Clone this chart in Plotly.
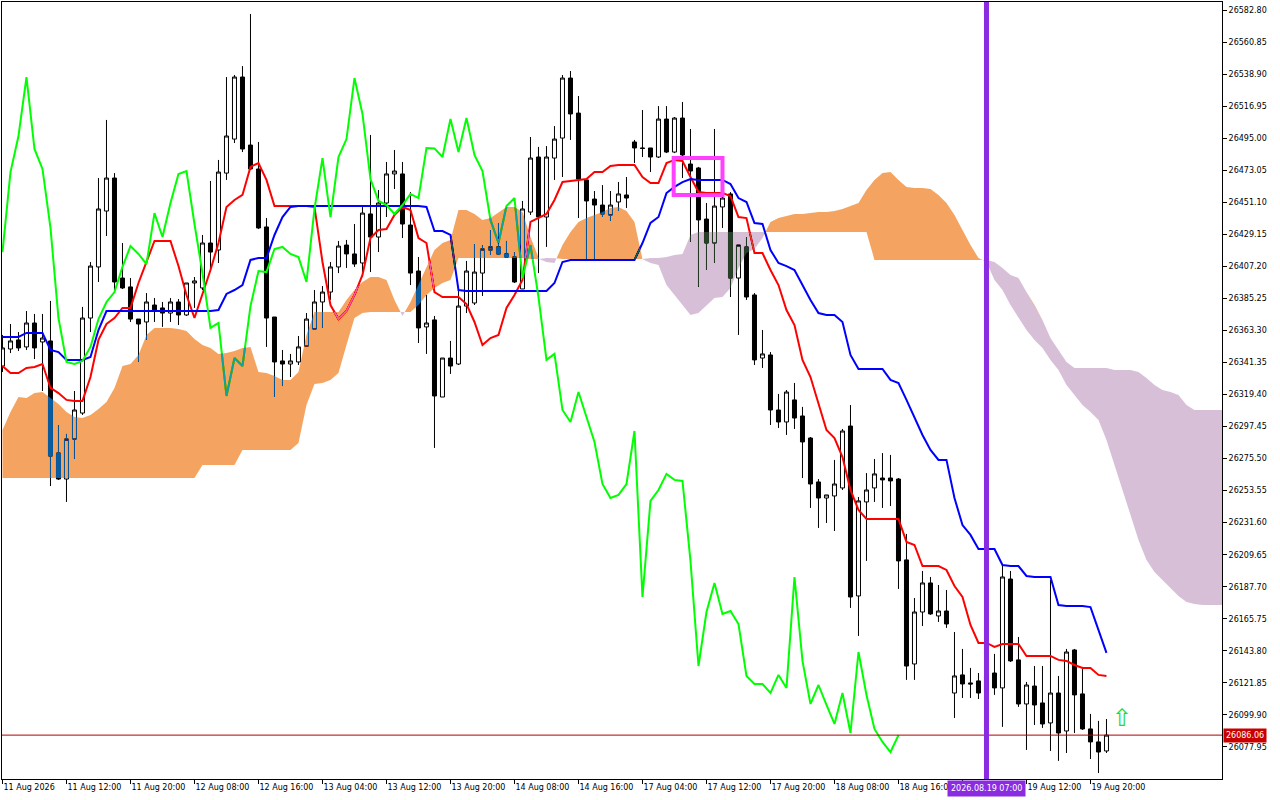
import plotly.graph_objects as go

# ---------------- data ----------------
bar_index = list(range(139))

open_ = [26338.9, 26350.6, 26356.8, 26352.0, 26368.4, 26355.4, 26356.1, 26279.3, 26261.5, 26288.9,
         26306.7, 26371.8, 26406.8, 26445.1, 26467.7, 26399.2, 26393.1, 26371.1, 26369.1, 26380.7,
         26378.7, 26375.2, 26382.8, 26373.9, 26395.8, 26392.4, 26423.2, 26418.4, 26471.1, 26494.4,
         26536.9, 26490.3, 26473.9, 26434.2, 26372.5, 26342.4, 26340.3, 26341.7, 26352.6, 26364.3,
         26382.8, 26389.6, 26406.8, 26421.8, 26415.7, 26409.5, 26443.1, 26427.3, 26450.6, 26470.5,
         26470.5, 26435.5, 26404.0, 26365.7, 26370.5, 26317.7, 26344.4, 26340.3, 26380.0, 26382.1,
         26402.6, 26418.4, 26420.5, 26415.7, 26413.6, 26391.7, 26444.4, 26482.1, 26441.0, 26481.4,
         26495.1, 26536.2, 26512.2, 26466.4, 26453.3, 26449.2, 26442.4, 26451.3, 26456.1, 26492.4,
         26488.3, 26488.3, 26482.1, 26508.1, 26485.5, 26508.8, 26477.3, 26474.6, 26439.6, 26423.2,
         26447.9, 26456.8, 26399.2, 26420.5, 26387.6, 26344.4, 26346.5, 26308.8, 26300.6, 26315.7,
         26304.7, 26289.6, 26259.5, 26248.5, 26249.9, 26255.4, 26297.8, 26181.4, 26245.8, 26255.4,
         26262.2, 26262.2, 26261.5, 26206.1, 26134.8, 26170.4, 26190.3, 26167.7, 26171.1, 26114.9,
         26127.3, 26121.8, 26123.2, 26114.9, 26128.6, 26118.4, 26193.0, 26137.6, 26107.4, 26119.7,
         26108.1, 26094.4, 26114.9, 26088.9, 26144.4, 26114.3, 26090.3, 26081.4, 26075.2]
high = [26360.2, 26367.7, 26362.2, 26376.6, 26374.6, 26374.6, 26383.5, 26298.5, 26292.4, 26321.8,
        26379.4, 26410.2, 26467.7, 26507.5, 26471.1, 26423.2, 26399.2, 26371.1, 26388.9, 26385.5,
        26382.8, 26385.5, 26384.8, 26395.8, 26399.9, 26428.7, 26465.7, 26480.1, 26536.9, 26538.3,
        26544.4, 26580.1, 26492.4, 26440.3, 26372.5, 26349.9, 26347.2, 26359.5, 26375.2, 26391.0,
        26393.7, 26410.2, 26424.6, 26425.3, 26436.2, 26447.9, 26497.2, 26459.5, 26478.7, 26486.9,
        26478.7, 26458.1, 26413.6, 26387.6, 26373.2, 26344.4, 26356.1, 26391.0, 26410.9, 26422.5,
        26421.8, 26432.1, 26436.9, 26424.6, 26417.0, 26452.0, 26495.8, 26489.0, 26489.6, 26503.3,
        26538.3, 26541.0, 26523.9, 26467.7, 26458.8, 26462.9, 26458.8, 26465.0, 26468.4, 26493.8,
        26514.3, 26488.3, 26517.0, 26517.0, 26509.5, 26519.8, 26501.3, 26475.3, 26450.6, 26501.3,
        26461.6, 26458.1, 26421.8, 26427.3, 26388.9, 26363.6, 26348.5, 26319.8, 26322.5, 26327.3,
        26310.9, 26290.3, 26261.5, 26250.6, 26274.6, 26295.8, 26312.2, 26249.2, 26265.6, 26275.2,
        26279.3, 26278.0, 26262.2, 26223.9, 26180.0, 26198.5, 26194.4, 26188.9, 26185.5, 26156.7,
        26145.1, 26132.1, 26128.6, 26130.7, 26141.7, 26203.3, 26198.5, 26153.3, 26122.5, 26133.4,
        26133.4, 26192.4, 26126.6, 26145.1, 26145.1, 26132.8, 26100.6, 26095.8, 26097.1]
low = [26334.8, 26347.8, 26349.2, 26349.9, 26343.7, 26321.8, 26256.7, 26260.9, 26245.8, 26275.2,
       26305.4, 26362.2, 26396.5, 26428.0, 26391.0, 26391.7, 26369.1, 26341.7, 26356.8, 26369.1,
       26365.7, 26369.1, 26367.0, 26373.2, 26378.7, 26391.0, 26403.3, 26409.5, 26466.4, 26491.7,
       26485.5, 26473.2, 26432.8, 26352.0, 26317.7, 26325.2, 26331.4, 26339.6, 26352.6, 26364.3,
       26365.0, 26384.2, 26402.6, 26406.1, 26406.8, 26399.9, 26403.3, 26417.0, 26441.0, 26460.2,
       26426.6, 26394.4, 26354.7, 26347.2, 26282.8, 26317.7, 26333.5, 26339.6, 26375.2, 26380.7,
       26386.9, 26415.0, 26415.0, 26412.9, 26395.8, 26391.7, 26442.4, 26402.6, 26420.5, 26466.4,
       26468.4, 26493.8, 26440.3, 26412.2, 26412.2, 26441.0, 26438.3, 26445.1, 26447.2, 26478.0,
       26482.1, 26471.8, 26481.4, 26484.8, 26484.8, 26467.7, 26423.9, 26393.1, 26404.7, 26409.5,
       26433.5, 26386.2, 26360.2, 26384.2, 26339.6, 26337.6, 26298.5, 26296.5, 26291.7, 26295.8,
       26262.2, 26241.7, 26228.0, 26231.4, 26225.9, 26254.0, 26173.2, 26154.0, 26205.4, 26245.8,
       26241.7, 26243.0, 26186.2, 26123.9, 26123.9, 26160.8, 26168.4, 26163.6, 26159.5, 26097.8,
       26111.5, 26111.5, 26110.8, 26110.2, 26113.6, 26091.7, 26136.2, 26105.4, 26075.9, 26093.0,
       26091.0, 26075.2, 26068.4, 26073.8, 26087.5, 26089.6, 26069.7, 26060.1, 26073.8]
close = [26351.3, 26356.1, 26351.3, 26368.4, 26351.3, 26358.1, 26277.3, 26261.5, 26288.9, 26308.8,
         26371.8, 26407.4, 26446.5, 26467.7, 26396.5, 26392.4, 26371.1, 26367.7, 26382.8, 26377.3,
         26375.2, 26382.8, 26373.9, 26395.8, 26397.2, 26423.2, 26417.0, 26471.8, 26496.5, 26536.9,
         26487.6, 26473.9, 26433.5, 26371.8, 26341.7, 26340.3, 26342.4, 26352.0, 26371.1, 26382.8,
         26389.6, 26406.8, 26421.1, 26415.7, 26408.8, 26443.7, 26427.3, 26450.6, 26470.5, 26472.5,
         26436.2, 26402.6, 26365.0, 26368.4, 26318.4, 26344.4, 26338.9, 26380.0, 26404.0, 26403.3,
         26419.1, 26420.5, 26415.7, 26413.6, 26396.5, 26446.5, 26481.4, 26441.0, 26482.1, 26494.4,
         26536.2, 26511.6, 26467.0, 26452.0, 26449.2, 26443.1, 26449.2, 26456.8, 26454.0, 26488.3,
         26488.0, 26482.1, 26508.1, 26485.5, 26508.8, 26483.5, 26472.5, 26439.0, 26423.2, 26448.5,
         26454.0, 26399.2, 26421.8, 26386.2, 26343.1, 26347.2, 26308.8, 26300.6, 26321.1, 26303.3,
         26286.9, 26258.1, 26248.5, 26250.6, 26258.1, 26294.4, 26180.7, 26246.5, 26254.0, 26265.0,
         26260.9, 26260.2, 26205.4, 26133.4, 26170.4, 26190.3, 26169.1, 26171.1, 26162.2, 26126.6,
         26121.1, 26121.1, 26114.9, 26127.3, 26118.4, 26194.4, 26136.9, 26107.4, 26120.4, 26106.7,
         26093.7, 26114.9, 26087.5, 26143.0, 26113.6, 26090.3, 26081.4, 26074.5, 26086.06]

# Tenkan-sen (red) and Kijun-sen (blue), one value per bar
tenkan = [26338.9, 26334.1, 26334.1, 26337.6, 26338.3, 26340.3, 26323.9, 26320.4, 26315.7, 26315.0,
          26315.0, 26331.4, 26356.8, 26367.7, 26371.8, 26378.7, 26378.7, 26395.8, 26410.2, 26424.6,
          26424.6, 26424.6, 26407.4, 26387.6, 26371.8, 26387.6, 26404.7, 26423.2, 26447.9, 26452.7,
          26456.1, 26475.3, 26478.0, 26466.4, 26448.5, 26448.5, 26448.5, 26448.5, 26448.5, 26447.9,
          26410.2, 26380.7, 26371.1, 26376.6, 26387.6, 26401.3, 26426.6, 26432.1, 26432.8, 26442.4,
          26447.9, 26445.8, 26426.6, 26423.2, 26389.6, 26386.2, 26386.2, 26386.2, 26381.4, 26369.1,
          26353.3, 26358.1, 26360.2, 26378.7, 26387.6, 26397.9, 26437.6, 26440.3, 26443.1, 26452.7,
          26465.0, 26465.7, 26466.4, 26467.0, 26471.8, 26471.8, 26475.9, 26476.6, 26476.6, 26476.6,
          26468.4, 26464.3, 26464.3, 26478.0, 26480.1, 26479.4, 26468.4, 26458.1, 26457.4, 26457.4,
          26457.4, 26455.4, 26441.0, 26440.3, 26416.3, 26416.3, 26404.7, 26394.4, 26377.3, 26367.0,
          26343.1, 26331.4, 26313.6, 26295.1, 26289.6, 26276.6, 26254.0, 26240.3, 26234.1, 26234.1,
          26234.1, 26234.1, 26234.1, 26218.4, 26216.3, 26201.9, 26201.9, 26201.9, 26199.2, 26188.2,
          26180.7, 26161.5, 26149.2, 26149.2, 26146.5, 26148.5, 26148.5, 26148.5, 26140.3, 26140.3,
          26140.3, 26140.3, 26137.6, 26136.9, 26134.1, 26132.1, 26132.1, 26127.3, 26126.6]
kijun = [26358.8, 26358.8, 26358.8, 26361.6, 26361.6, 26361.6, 26349.9, 26348.5, 26343.1, 26343.1,
         26343.1, 26345.1, 26363.6, 26376.6, 26376.6, 26376.6, 26376.6, 26376.6, 26376.6, 26376.6,
         26376.6, 26376.6, 26376.6, 26376.6, 26376.6, 26376.6, 26376.6, 26377.3, 26388.3, 26391.0,
         26394.4, 26411.6, 26412.9, 26412.9, 26428.7, 26441.0, 26447.9, 26448.5, 26448.5, 26448.5,
         26448.5, 26448.5, 26448.5, 26448.5, 26448.5, 26448.5, 26448.5, 26448.5, 26448.5, 26448.5,
         26448.5, 26448.5, 26448.5, 26447.9, 26431.4, 26431.4, 26428.7, 26391.0, 26390.3, 26390.3,
         26390.3, 26390.3, 26390.3, 26390.3, 26390.3, 26390.3, 26390.3, 26390.3, 26390.3, 26395.8,
         26410.2, 26411.6, 26411.6, 26411.6, 26411.6, 26411.6, 26411.6, 26411.6, 26411.6, 26411.6,
         26423.2, 26436.9, 26441.0, 26457.4, 26461.6, 26464.9, 26467.0, 26466.4, 26466.4, 26466.4,
         26466.4, 26463.6, 26454.0, 26451.3, 26436.9, 26436.2, 26418.4, 26409.5, 26407.4, 26404.7,
         26394.4, 26384.2, 26375.2, 26373.9, 26373.9, 26369.1, 26346.5, 26336.9, 26336.9, 26336.9,
         26336.9, 26329.4, 26327.3, 26315.7, 26303.3, 26291.7, 26281.4, 26274.6, 26274.6, 26248.5,
         26230.0, 26223.2, 26213.6, 26213.6, 26213.6, 26202.6, 26201.9, 26201.9, 26195.1, 26194.4,
         26194.4, 26194.4, 26175.2, 26174.5, 26174.5, 26174.5, 26173.8, 26158.1, 26142.4]

# Senkou spans A and B (already shifted 26 bars forward), one value per bar slot 0..153
span_a = [26295.1, 26307.4, 26317.7, 26317.0, 26320.4, 26321.1, 26317.0, 26312.9, 26307.4, 26304.0,
          26303.3, 26305.4, 26309.5, 26314.3, 26323.9, 26338.9, 26340.3, 26346.5, 26360.2, 26365.0,
          26365.0, 26365.0, 26364.3, 26362.9, 26357.4, 26353.3, 26351.3, 26347.2, 26347.8, 26349.2,
          26351.3, 26352.0, 26334.8, 26334.1, 26332.1, 26329.4, 26329.4, 26334.8, 26360.2, 26375.9,
          26375.9, 26375.9, 26375.9, 26384.2, 26391.0, 26396.5, 26399.9, 26399.9, 26397.9, 26384.2,
          26373.2, 26382.8, 26394.4, 26406.1, 26418.4, 26423.2, 26425.3, 26445.8, 26445.8, 26443.1,
          26439.0, 26440.3, 26444.4, 26447.9, 26447.9, 26444.4, 26427.3, 26412.4, 26410.2, 26409.5,
          26421.8, 26430.7, 26437.6, 26440.3, 26442.4, 26444.4, 26447.2, 26447.9, 26445.1, 26437.6,
          26412.0, 26409.5, 26408.1, 26394.4, 26387.6, 26380.7, 26373.9, 26375.2, 26380.7, 26385.5,
          26386.2, 26392.4, 26406.1, 26416.3, 26419.1, 26426.6, 26437.6, 26440.3, 26441.7, 26443.1,
          26443.1, 26443.7, 26444.4, 26444.4, 26445.1, 26446.5, 26448.5, 26450.6, 26459.5, 26466.4,
          26471.1, 26471.8, 26466.4, 26461.6, 26460.9, 26460.9, 26460.2, 26456.1, 26450.6, 26442.4,
          26432.1, 26421.8, 26412.9, 26410.2, 26397.9, 26391.0, 26380.7, 26371.8, 26363.6, 26356.8,
          26351.3, 26343.1, 26336.2, 26325.9, 26319.1, 26312.2, 26307.4, 26302.0, 26288.3, 26271.1,
          26254.0, 26236.9, 26219.8, 26206.1, 26197.8, 26192.4, 26186.9, 26181.4, 26177.3, 26175.9,
          26175.2, 26175.2, 26175.2, 26175.2]
span_b = ([26262.2] * 25 + [26271.1] * 5 + [26281.4] * 7 +
          [26286.2, 26312.2, 26326.6, 26327.3, 26329.4, 26334.1, 26353.3, 26371.8, 26375.2] +
          [26375.9] * 6 + [26380.7, 26387.6, 26392.4, 26395.8, 26397.9] +
          [26412.9] * 9 + [26412.2] * 2 + [26412.9] * 2 + [26412.2] * 11 + [26412.9] * 2 +
          [26413.6, 26415.0, 26415.7, 26428.7] + [26430.7] * 22 + [26411.6] * 15 +
          [26410.2, 26406.1, 26401.3, 26399.2, 26389.6, 26380.7, 26370.5, 26358.1, 26349.9, 26341.7] +
          [26337.6] * 5 + [26336.2] * 3 +
          [26334.8, 26330.7, 26325.9, 26322.5, 26321.1, 26319.1, 26312.2] + [26308.8] * 5)

time_tick_index = [0, 8, 16, 24, 32, 40, 48, 56, 64, 72, 80, 88, 96, 104, 112, 120, 128, 136]
time_tick_text = ["11 Aug 2026", "11 Aug 12:00", "11 Aug 20:00", "12 Aug 08:00", "12 Aug 16:00",
                  "13 Aug 04:00", "13 Aug 12:00", "13 Aug 20:00", "14 Aug 08:00", "14 Aug 16:00",
                  "17 Aug 04:00", "17 Aug 12:00", "17 Aug 20:00", "18 Aug 08:00", "18 Aug 16:00",
                  "", "19 Aug 12:00", "19 Aug 20:00"]
price_ticks = [26077.95, 26099.90, 26121.85, 26143.80, 26165.75, 26187.70, 26209.65, 26231.60,
               26253.55, 26275.50, 26297.45, 26319.40, 26341.35, 26363.30, 26385.25, 26407.20,
               26429.15, 26451.10, 26473.05, 26495.00, 26516.95, 26538.90, 26560.85, 26582.80]
price_tick_text = ["%.2f" % v for v in price_ticks]

kumo_shift = 26
last_price = 26086.06
crosshair_bar = 123
crosshair_text = "2026.08.19 07:00"
box_bar0, box_bar1 = 83.9, 90.0
box_price_top, box_price_bottom = 26481.4, 26456.1
arrow_bar, arrow_price = 140, 26097.5
x_range = [-0.06, 152.44]
y_range = [26056.0, 26588.3]

ORANGE = "rgb(244,164,96)"
THISTLE = "rgb(216,191,216)"
FONT = "DejaVu Sans"

# ---------------- figure ----------------
fig = go.Figure()

# plain white chart background inside the plot group (backdrop for the cloud's XOR-style blending)
fig.add_trace(go.Bar(x=[(x_range[0] + x_range[1]) / 2], y=[y_range[1] - y_range[0]], base=[y_range[0]],
                     width=[x_range[1] - x_range[0]], marker=dict(color="white", line=dict(width=0)),
                     hoverinfo="skip", showlegend=False))

fig.add_trace(go.Candlestick(
    x=bar_index, open=open_, high=high, low=low, close=close,
    increasing=dict(line=dict(color="black", width=1), fillcolor="white"),
    decreasing=dict(line=dict(color="black", width=1), fillcolor="black"),
    whiskerwidth=0, hoverinfo="skip", showlegend=False))

fig.add_trace(go.Scatter(x=bar_index, y=tenkan, mode="lines",
                         line=dict(color="#ff0000", width=2), hoverinfo="skip"))
fig.add_trace(go.Scatter(x=bar_index, y=kijun, mode="lines",
                         line=dict(color="#0000ff", width=2), hoverinfo="skip"))
# Chikou span: closes plotted 26 bars back
chikou_x = bar_index[:len(close) - kumo_shift]
chikou_y = close[kumo_shift:]
fig.add_trace(go.Scatter(x=chikou_x, y=chikou_y, mode="lines",
                         line=dict(color="#00ff00", width=2), hoverinfo="skip"))

# cloud: split where span A and B cross
cx, c_lo_o, c_lo_l, c_hi = [], [], [], []
n = min(len(span_a), len(span_b))
for k in range(n):
    a, b = span_a[k], span_b[k]
    cx.append(k); c_lo_o.append(b); c_lo_l.append(a); c_hi.append(max(a, b))
    if k < n - 1:
        d0 = a - b
        d1 = span_a[k + 1] - span_b[k + 1]
        if d0 * d1 < 0:
            t = d0 / (d0 - d1)
            yc = a + t * (span_a[k + 1] - a)
            cx.append(k + t); c_lo_o.append(yc); c_lo_l.append(yc); c_hi.append(yc)

common = dict(mode="lines", line=dict(width=0), hoverinfo="skip")
fig.add_trace(go.Scatter(x=cx, y=c_lo_o, **common))
fig.add_trace(go.Scatter(x=cx, y=c_hi, fill="tonexty", fillcolor=ORANGE, **common))
fig.add_trace(go.Scatter(x=cx, y=c_lo_l, **common))
fig.add_trace(go.Scatter(x=cx, y=c_hi, fill="tonexty", fillcolor=THISTLE, **common))

fig.add_shape(type="line", xref="paper", x0=0, x1=1, yref="y", y0=last_price, y1=last_price,
              line=dict(color="#b00000", width=1))
fig.add_shape(type="line", xref="x", x0=crosshair_bar, x1=crosshair_bar, yref="paper", y0=0, y1=1,
              line=dict(color="#8a2be2", width=5))
fig.add_shape(type="rect", xref="x", yref="y", x0=box_bar0, x1=box_bar1,
              y0=box_price_bottom, y1=box_price_top, line=dict(color="#ff40ff", width=4))

fig.add_annotation(x=crosshair_bar, xref="x", y=0, yref="paper", yanchor="top", yshift=-1,
                   text=crosshair_text, showarrow=False, bgcolor="#8a2be2", borderpad=3,
                   font=dict(family=FONT, size=8, color="white"))
fig.add_annotation(x=1, xref="paper", xanchor="left", y=last_price, yref="y", xshift=1,
                   text="%.2f" % last_price, showarrow=False, bgcolor="#c80000", borderpad=2,
                   font=dict(family=FONT, size=8, color="white"))
fig.add_annotation(x=arrow_bar, y=arrow_price, xref="x", yref="y", text="\u21e7", showarrow=False,
                   font=dict(family=FONT, size=24, color="#22dd22"))

fig.update_layout(
    width=1280, height=800, margin=dict(l=2, r=58, t=2, b=21, pad=0),
    paper_bgcolor="white", plot_bgcolor="white", showlegend=False,
    boxgap=0.5, boxgroupgap=0, bargap=0,
    xaxis=dict(range=x_range, tickmode="array", tickvals=time_tick_index, ticktext=time_tick_text,
               ticks="outside", ticklen=4, tickcolor="black", showline=True, mirror=True,
               linecolor="black", linewidth=1, showgrid=False, zeroline=False,
               rangeslider=dict(visible=False), ticklabelposition="outside right",
               tickfont=dict(family=FONT, size=8, color="black")),
    yaxis=dict(side="right", range=y_range, tickmode="array", tickvals=price_ticks,
               ticktext=price_tick_text, ticks="outside", ticklen=4, tickcolor="black",
               showline=True, mirror=True, linecolor="black", linewidth=1, showgrid=False,
               zeroline=False, tickfont=dict(family=FONT, size=8, color="black")),
)

post = """
document.body.style.margin = '0';
document.body.style.padding = '0';
var gd = document.getElementById('{plot_id}');
var inv = {'rgb(244, 164, 96)': 'rgb(11, 91, 159)', 'rgb(216, 191, 216)': 'rgb(39, 64, 39)'};
gd.querySelectorAll('.scatterlayer path').forEach(function(p){
  var f = p.style.fill;
  if (inv[f]) { p.style.fill = inv[f]; p.style.mixBlendMode = 'difference'; }
});
"""
fig.write_html("out.html", post_script=post, config={"displayModeBar": False})
